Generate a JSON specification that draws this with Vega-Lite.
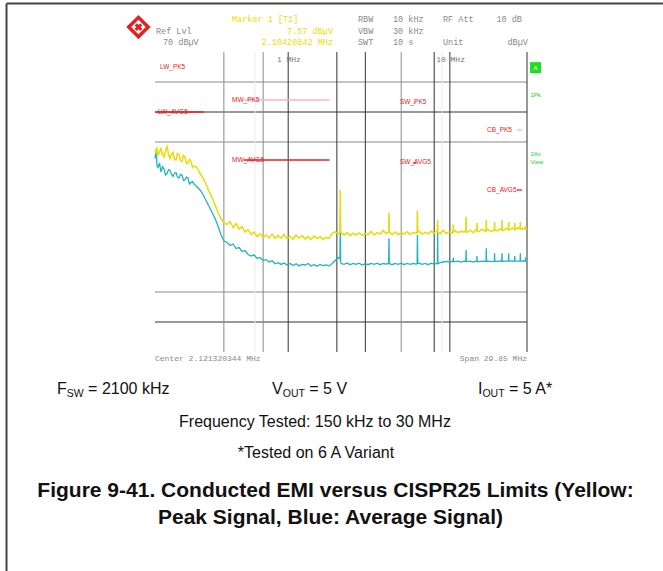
{
  "$schema": "https://vega.github.io/schema/vega-lite/v6.json",
  "width": 372,
  "height": 300,
  "autosize": {"type": "none"},
  "padding": {"left": 155, "top": 52, "right": 136, "bottom": 219},
  "background": "white",
  "config": {"view": {"stroke": null}, "font": "Liberation Sans"},
  "datasets": {
    "hgrid": [
      {"db": 60, "w": "minor"}, {"db": 50, "w": "major"}, {"db": 40, "w": "minor"},
      {"db": -10, "w": "minor"}, {"db": -20, "w": "major"}
    ],
    "vgrid": [
      {"f": 0.4, "w": "minor"}, {"f": 0.623, "w": "faint"}, {"f": 0.7, "w": "minor"},
      {"f": 1, "w": "major"}, {"f": 2, "w": "major"}, {"f": 3, "w": "major"},
      {"f": 5, "w": "minor"}, {"f": 8, "w": "major"}, {"f": 8.94, "w": "faint"},
      {"f": 10, "w": "major"}, {"f": 30, "w": "major"}
    ],
    "limits": [
      {"band": "LW", "kind": "AVG", "f1": 0.15, "f2": 0.3, "db": 50},
      {"band": "MW", "kind": "PK", "f1": 0.53, "f2": 1.8, "db": 54},
      {"band": "MW", "kind": "AVG", "f1": 0.53, "f2": 1.8, "db": 34},
      {"band": "SW", "kind": "PK", "f1": 5.9, "f2": 6.2, "db": 53},
      {"band": "SW", "kind": "AVG", "f1": 5.9, "f2": 6.2, "db": 33},
      {"band": "CB", "kind": "PK", "f1": 26, "f2": 28, "db": 44},
      {"band": "CB", "kind": "AVG", "f1": 26, "f2": 28, "db": 24}
    ],
    "limitLabels": [
      {"t": "LW_PK5", "f": 0.1611, "db": 65},
      {"t": "LW_AVG5", "f": 0.1566, "db": 50},
      {"t": "MW_PK5", "f": 0.449, "db": 54},
      {"t": "MW_AVG5", "f": 0.449, "db": 34},
      {"t": "SW_PK5", "f": 4.917, "db": 53.5},
      {"t": "SW_AVG5", "f": 4.917, "db": 33.5},
      {"t": "CB_PK5", "f": 16.97, "db": 44},
      {"t": "CB_AVG5", "f": 16.97, "db": 24}
    ],
    "trace": [
      {"f": 0.15, "pk": 37.5, "av": 34.5}, {"f": 0.1525, "pk": 36.5, "av": 37.0},
      {"f": 0.1545, "pk": 38.2, "av": 32.0},
      {"f": 0.1566, "pk": 35.5, "av": 31.5}, {"f": 0.16, "pk": 36.8, "av": 33.0},
      {"f": 0.1634, "pk": 37.8, "av": 30.0}, {"f": 0.167, "pk": 35.8, "av": 31.8},
      {"f": 0.1705, "pk": 35.0, "av": 31.0}, {"f": 0.174, "pk": 37.0, "av": 29.0},
      {"f": 0.178, "pk": 38.5, "av": 29.5}, {"f": 0.182, "pk": 35.8, "av": 30.8},
      {"f": 0.1858, "pk": 34.5, "av": 30.5}, {"f": 0.19, "pk": 36.0, "av": 29.2},
      {"f": 0.1939, "pk": 36.5, "av": 28.5}, {"f": 0.198, "pk": 34.2, "av": 29.6},
      {"f": 0.2023, "pk": 34.0, "av": 29.8}, {"f": 0.2065, "pk": 36.2, "av": 28.3},
      {"f": 0.2112, "pk": 35.8, "av": 28.0}, {"f": 0.2158, "pk": 33.8, "av": 29.2},
      {"f": 0.2204, "pk": 33.5, "av": 29.0}, {"f": 0.225, "pk": 35.5, "av": 27.2},
      {"f": 0.23, "pk": 35.0, "av": 27.5}, {"f": 0.235, "pk": 32.8, "av": 28.3},
      {"f": 0.2401, "pk": 33.0, "av": 28.0}, {"f": 0.245, "pk": 34.2, "av": 26.0},
      {"f": 0.2506, "pk": 33.5, "av": 26.5}, {"f": 0.256, "pk": 31.5, "av": 26.8},
      {"f": 0.2615, "pk": 32.0, "av": 26.0}, {"f": 0.2729, "pk": 31.5, "av": 25.0},
      {"f": 0.2849, "pk": 29.5, "av": 24.0}, {"f": 0.2973, "pk": 28.0, "av": 22.5},
      {"f": 0.3103, "pk": 26.0, "av": 20.5}, {"f": 0.3239, "pk": 23.5, "av": 18.5},
      {"f": 0.338, "pk": 21.5, "av": 16.5}, {"f": 0.3528, "pk": 19.0, "av": 14.5},
      {"f": 0.3682, "pk": 16.5, "av": 12.0}, {"f": 0.3843, "pk": 14.5, "av": 9.0},
      {"f": 0.4011, "pk": 13.0, "av": 7.0}, {"f": 0.4186, "pk": 12.5, "av": 6.5},
      {"f": 0.4369, "pk": 13.5, "av": 5.5}, {"f": 0.456, "pk": 11.5, "av": 6.0},
      {"f": 0.4759, "pk": 12.8, "av": 4.5}, {"f": 0.4967, "pk": 11.0, "av": 4.8},
      {"f": 0.5184, "pk": 11.8, "av": 3.5}, {"f": 0.541, "pk": 10.0, "av": 3.8},
      {"f": 0.5646, "pk": 10.8, "av": 2.5}, {"f": 0.5893, "pk": 9.2, "av": 2.0},
      {"f": 0.615, "pk": 10.0, "av": 2.4}, {"f": 0.6419, "pk": 8.5, "av": 1.2},
      {"f": 0.6699, "pk": 9.4, "av": 1.5}, {"f": 0.6992, "pk": 8.2, "av": 0.5},
      {"f": 0.7297, "pk": 9.0, "av": 0.8}, {"f": 0.7616, "pk": 8.0, "av": 0.0},
      {"f": 0.7949, "pk": 9.3, "av": 0.4}, {"f": 0.8296, "pk": 7.9, "av": -0.6},
      {"f": 0.8658, "pk": 8.8, "av": -0.2}, {"f": 0.9036, "pk": 8.0, "av": -0.8},
      {"f": 0.9431, "pk": 9.2, "av": -0.3}, {"f": 0.9843, "pk": 7.8, "av": -1.0},
      {"f": 1.027, "pk": 8.6, "av": -0.5}, {"f": 1.072, "pk": 7.6, "av": -1.2},
      {"f": 1.119, "pk": 9.0, "av": -0.6}, {"f": 1.168, "pk": 8.0, "av": -1.3},
      {"f": 1.219, "pk": 8.8, "av": -0.8}, {"f": 1.272, "pk": 7.7, "av": -1.0},
      {"f": 1.328, "pk": 8.5, "av": -0.5}, {"f": 1.386, "pk": 7.5, "av": -1.3},
      {"f": 1.446, "pk": 8.7, "av": -0.9}, {"f": 1.509, "pk": 7.8, "av": -1.4},
      {"f": 1.575, "pk": 8.4, "av": -0.8}, {"f": 1.644, "pk": 7.6, "av": -1.2},
      {"f": 1.716, "pk": 8.2, "av": -1.0}, {"f": 1.791, "pk": 7.9, "av": -1.3},
      {"f": 1.869, "pk": 9.5, "av": -0.5}, {"f": 1.951, "pk": 10.0, "av": 0.5},
      {"f": 2.036, "pk": 9.5, "av": 1.5}, {"f": 2.09, "pk": 10.0, "av": 1.0},
      {"f": 2.1, "pk": 24.0, "av": 13.4}, {"f": 2.11, "pk": 10.0, "av": 0.5},
      {"f": 2.125, "pk": 9.8, "av": -0.5}, {"f": 2.218, "pk": 9.0, "av": -0.8},
      {"f": 2.315, "pk": 9.8, "av": -0.3}, {"f": 2.416, "pk": 8.8, "av": -0.9},
      {"f": 2.521, "pk": 9.6, "av": -0.5}, {"f": 2.631, "pk": 9.0, "av": -0.8},
      {"f": 2.746, "pk": 9.7, "av": -0.4}, {"f": 2.866, "pk": 8.9, "av": -1.0},
      {"f": 2.991, "pk": 9.5, "av": -0.6}, {"f": 3.122, "pk": 9.2, "av": -0.9},
      {"f": 3.258, "pk": 10.2, "av": -0.5}, {"f": 3.401, "pk": 9.0, "av": -0.8},
      {"f": 3.549, "pk": 9.8, "av": -0.4}, {"f": 3.704, "pk": 9.3, "av": -0.9},
      {"f": 3.866, "pk": 10.5, "av": -0.5}, {"f": 4.035, "pk": 9.5, "av": -0.7},
      {"f": 4.18, "pk": 10.0, "av": -0.5}, {"f": 4.2, "pk": 16.4, "av": 7.9},
      {"f": 4.22, "pk": 10.0, "av": -0.5}, {"f": 4.395, "pk": 9.2, "av": -0.9},
      {"f": 4.587, "pk": 10.0, "av": -0.5}, {"f": 4.787, "pk": 9.1, "av": -0.8},
      {"f": 4.996, "pk": 9.9, "av": -0.4}, {"f": 5.214, "pk": 9.3, "av": -0.9},
      {"f": 5.442, "pk": 10.1, "av": -0.5}, {"f": 5.679, "pk": 9.2, "av": -0.8},
      {"f": 5.927, "pk": 9.8, "av": -0.5}, {"f": 6.186, "pk": 9.5, "av": -0.7},
      {"f": 6.27, "pk": 10.0, "av": -0.5}, {"f": 6.3, "pk": 17.1, "av": 9.0},
      {"f": 6.33, "pk": 10.0, "av": -0.5}, {"f": 6.456, "pk": 10.2, "av": -0.4},
      {"f": 6.738, "pk": 9.3, "av": -0.8}, {"f": 7.033, "pk": 9.9, "av": -0.5},
      {"f": 7.34, "pk": 9.4, "av": -0.9}, {"f": 7.66, "pk": 10.3, "av": -0.4},
      {"f": 7.995, "pk": 9.6, "av": -0.7}, {"f": 8.37, "pk": 10.5, "av": -0.5},
      {"f": 8.4, "pk": 14.0, "av": 10.1}, {"f": 8.43, "pk": 10.0, "av": -0.5},
      {"f": 8.708, "pk": 9.4, "av": -0.2}, {"f": 9.088, "pk": 10.6, "av": 0.0},
      {"f": 9.485, "pk": 9.5, "av": 0.2}, {"f": 9.899, "pk": 10.0, "av": 0.0},
      {"f": 10.332, "pk": 9.6, "av": 0.2}, {"f": 10.46, "pk": 10.2, "av": 0.1},
      {"f": 10.5, "pk": 12.5, "av": 1.5}, {"f": 10.54, "pk": 10.0, "av": 0.1},
      {"f": 10.783, "pk": 10.4, "av": 0.1}, {"f": 11.254, "pk": 9.8, "av": 0.3},
      {"f": 11.745, "pk": 10.2, "av": 0.0}, {"f": 12.258, "pk": 10.0, "av": 0.3},
      {"f": 12.55, "pk": 10.3, "av": 0.2}, {"f": 12.6, "pk": 15.1, "av": 4.0},
      {"f": 12.65, "pk": 10.0, "av": 0.2}, {"f": 12.793, "pk": 9.9, "av": 0.1},
      {"f": 13.352, "pk": 10.6, "av": 0.3}, {"f": 13.935, "pk": 9.8, "av": 0.0},
      {"f": 14.543, "pk": 10.8, "av": 0.3}, {"f": 14.65, "pk": 10.4, "av": 0.2},
      {"f": 14.7, "pk": 13.0, "av": 2.0}, {"f": 14.75, "pk": 10.3, "av": 0.2},
      {"f": 15.178, "pk": 10.2, "av": 0.1}, {"f": 15.841, "pk": 10.9, "av": 0.3},
      {"f": 16.533, "pk": 10.3, "av": 0.2}, {"f": 16.74, "pk": 10.5, "av": 0.3},
      {"f": 16.8, "pk": 14.0, "av": 4.6}, {"f": 16.86, "pk": 10.4, "av": 0.2},
      {"f": 17.255, "pk": 10.8, "av": 0.3}, {"f": 18.008, "pk": 10.2, "av": 0.1},
      {"f": 18.83, "pk": 10.6, "av": 0.2}, {"f": 18.9, "pk": 13.4, "av": 2.9},
      {"f": 18.97, "pk": 10.6, "av": 0.2}, {"f": 19.615, "pk": 10.4, "av": 0.2},
      {"f": 20.472, "pk": 11.0, "av": 0.4}, {"f": 20.93, "pk": 10.7, "av": 0.3},
      {"f": 21.0, "pk": 14.0, "av": 2.9}, {"f": 21.07, "pk": 10.6, "av": 0.3},
      {"f": 21.366, "pk": 10.5, "av": 0.2}, {"f": 22.299, "pk": 11.2, "av": 0.3},
      {"f": 23.02, "pk": 10.8, "av": 0.3}, {"f": 23.1, "pk": 13.4, "av": 2.9},
      {"f": 23.18, "pk": 10.7, "av": 0.3}, {"f": 24.289, "pk": 11.3, "av": 0.4},
      {"f": 25.12, "pk": 10.9, "av": 0.3}, {"f": 25.2, "pk": 13.0, "av": 2.0},
      {"f": 25.28, "pk": 10.8, "av": 0.3}, {"f": 26.457, "pk": 11.4, "av": 0.3},
      {"f": 27.21, "pk": 11.0, "av": 0.3}, {"f": 27.3, "pk": 13.4, "av": 2.9},
      {"f": 27.39, "pk": 10.9, "av": 0.3}, {"f": 28.817, "pk": 11.2, "av": 0.4},
      {"f": 29.3, "pk": 11.0, "av": 0.3}, {"f": 29.4, "pk": 12.0, "av": 1.5},
      {"f": 29.5, "pk": 11.0, "av": 0.3}, {"f": 30.0, "pk": 11.0, "av": 0.3}
    ],
    "headGray": [
      {"t": "RBW", "f": 2.70, "db": 81}, {"t": "10 kHz", "f": 4.449, "db": 81},
      {"t": "RF Att", "f": 9.07, "db": 81},
      {"t": "Ref Lvl", "f": 0.152, "db": 77}, {"t": "VBW", "f": 2.70, "db": 77},
      {"t": "30 kHz", "f": 4.449, "db": 77},
      {"t": "70 dBµV", "f": 0.1681, "db": 73.33}, {"t": "SWT", "f": 2.70, "db": 73.33},
      {"t": "10 s", "f": 4.449, "db": 73.33}, {"t": "Unit", "f": 9.07, "db": 73.33}
    ],
    "headGrayRight": [
      {"t": "10 dB", "f": 27.9, "db": 81}, {"t": "dBµV", "f": 30.4, "db": 73.33}
    ],
    "headYellow": [
      {"t": "Marker 1 [T1]", "f": 0.449, "db": 81}
    ],
    "headYellowRight": [
      {"t": "7.57 dBµV", "f": 1.893, "db": 77},
      {"t": "2.10420842 MHz", "f": 1.893, "db": 73.33}
    ],
    "freqLabels": [
      {"t": "1 MHz", "f": 1.01, "db": 67.3}, {"t": "10 MHz", "f": 10.1, "db": 67.3}
    ],
    "bottomLeft": [{"t": "Center 2.121320344 MHz", "f": 0.15, "db": -32.4}],
    "bottomRight": [{"t": "Span 29.85 MHz", "f": 30, "db": -32.4}],
    "greenLabels": [
      {"t": "1Pk", "f": 31.5, "db": 55.7},
      {"t": "2Av", "f": 31.5, "db": 36},
      {"t": "View", "f": 31.5, "db": 33.3}
    ],
    "greenBox": [{"t": "A", "f": 33.87, "db": 64.8}],
    "logo": [{"f": 0.1185, "db": 78.3}],
    "footMain": [
      {"t": "F", "f": 0.03714, "db": -42.33},
      {"t": "= 2100 kHz", "f": 0.05785, "db": -42.33},
      {"t": "V", "f": 0.7938, "db": -42.33},
      {"t": "= 5 V", "f": 1.3504, "db": -42.33},
      {"t": "I", "f": 14.928, "db": -42.33},
      {"t": "= 5 A*", "f": 23.214, "db": -42.33}
    ],
    "footSub": [
      {"t": "SW", "f": 0.0427, "db": -44},
      {"t": "OUT", "f": 0.9249, "db": -44},
      {"t": "OUT", "f": 15.893, "db": -44}
    ],
    "footCenter": [
      {"t": "Frequency Tested: 150 kHz to 30 MHz", "f": 1.4648, "db": -53.33},
      {"t": "*Tested on 6 A Variant", "f": 1.4858, "db": -63.67}
    ],
    "caption": [
      {"t": "Figure 9-41. Conducted EMI versus CISPR25 Limits (Yellow:", "f": 1.9617, "db": -76.33},
      {"t": "Peak Signal, Blue: Average Signal)", "f": 1.8267, "db": -85.33}
    ],
    "frameTop": [{"f1": 0.0181, "f2": 208, "db": 86.2}],
    "frameLeft": [{"f": 0.0181, "db1": 86.2, "db2": -103}]
  },
  "resolve": {"scale": {"color": "independent"}},
  "layer": [
    {
      "data": {"name": "hgrid"},
      "mark": {"type": "rule", "strokeWidth": 1},
      "encoding": {
        "y": {
          "field": "db", "type": "quantitative",
          "scale": {"domain": [-30, 70], "nice": false, "zero": false},
          "axis": {
            "title": null, "values": [70, 60, 50, 40, 30, 20, 10, 0, -10, -20, -30],
            "labelFontSize": 6, "labelColor": "#8c8c8c", "labelFont": "DejaVu Sans",
            "ticks": false, "grid": false, "domainColor": "#333333", "domainWidth": 1.5,
            "labelPadding": 4
          }
        },
        "color": {
          "field": "w", "type": "nominal", "legend": null,
          "scale": {"domain": ["major", "minor", "faint"], "range": ["#333333", "#8a8a8a", "#ececec"]}
        }
      }
    },
    {
      "data": {"name": "vgrid"},
      "mark": {"type": "rule", "strokeWidth": 1},
      "encoding": {
        "x": {
          "field": "f", "type": "quantitative",
          "scale": {"type": "log", "domain": [0.15, 30], "nice": false},
          "axis": {
            "title": null, "labels": false, "ticks": false, "grid": false,
            "domainColor": "#333333", "domainWidth": 1.5
          }
        },
        "color": {
          "field": "w", "type": "nominal", "legend": null,
          "scale": {"domain": ["major", "minor", "faint"], "range": ["#333333", "#8a8a8a", "#ececec"]}
        }
      }
    },
    {
      "data": {"name": "limits"},
      "mark": {"type": "rule", "strokeWidth": 1.3},
      "encoding": {
        "x": {"field": "f1", "type": "quantitative", "axis": null},
        "x2": {"field": "f2"},
        "y": {"field": "db", "type": "quantitative", "axis": null},
        "color": {
          "field": "kind", "type": "nominal", "legend": null,
          "scale": {"domain": ["PK", "AVG"], "range": ["#f2b8b8", "#e82020"]}
        }
      }
    },
    {
      "data": {"name": "trace"},
      "mark": {"type": "line", "color": "#1fb5bd", "strokeWidth": 1.3},
      "encoding": {
        "x": {"field": "f", "type": "quantitative", "axis": null},
        "y": {"field": "av", "type": "quantitative", "axis": null}
      }
    },
    {
      "data": {"name": "trace"},
      "mark": {"type": "line", "color": "#e8dc10", "strokeWidth": 1.6},
      "encoding": {
        "x": {"field": "f", "type": "quantitative", "axis": null},
        "y": {"field": "pk", "type": "quantitative", "axis": null}
      }
    },
    {
      "data": {"name": "limitLabels"},
      "mark": {"type": "text", "align": "left", "baseline": "middle", "fontSize": 6.5, "color": "#e82020"},
      "encoding": {
        "x": {"field": "f", "type": "quantitative", "axis": null},
        "y": {"field": "db", "type": "quantitative", "axis": null},
        "text": {"field": "t"}
      }
    },
    {
      "data": {"name": "headGray"},
      "mark": {"type": "text", "align": "left", "baseline": "middle", "fontSize": 8.5, "font": "Liberation Mono", "color": "#8a8a8a"},
      "encoding": {
        "x": {"field": "f", "type": "quantitative", "axis": null},
        "y": {"field": "db", "type": "quantitative", "axis": null},
        "text": {"field": "t"}
      }
    },
    {
      "data": {"name": "headGrayRight"},
      "mark": {"type": "text", "align": "right", "baseline": "middle", "fontSize": 8.5, "font": "Liberation Mono", "color": "#8a8a8a"},
      "encoding": {
        "x": {"field": "f", "type": "quantitative", "axis": null},
        "y": {"field": "db", "type": "quantitative", "axis": null},
        "text": {"field": "t"}
      }
    },
    {
      "data": {"name": "headYellow"},
      "mark": {"type": "text", "align": "left", "baseline": "middle", "fontSize": 8.5, "font": "Liberation Mono", "color": "#e8e000"},
      "encoding": {
        "x": {"field": "f", "type": "quantitative", "axis": null},
        "y": {"field": "db", "type": "quantitative", "axis": null},
        "text": {"field": "t"}
      }
    },
    {
      "data": {"name": "headYellowRight"},
      "mark": {"type": "text", "align": "right", "baseline": "middle", "fontSize": 8.5, "font": "Liberation Mono", "color": "#e8e000"},
      "encoding": {
        "x": {"field": "f", "type": "quantitative", "axis": null},
        "y": {"field": "db", "type": "quantitative", "axis": null},
        "text": {"field": "t"}
      }
    },
    {
      "data": {"name": "freqLabels"},
      "mark": {"type": "text", "align": "center", "baseline": "middle", "fontSize": 8, "font": "Liberation Mono", "color": "#777777"},
      "encoding": {
        "x": {"field": "f", "type": "quantitative", "axis": null},
        "y": {"field": "db", "type": "quantitative", "axis": null},
        "text": {"field": "t"}
      }
    },
    {
      "data": {"name": "bottomLeft"},
      "mark": {"type": "text", "align": "left", "baseline": "middle", "fontSize": 8, "font": "Liberation Mono", "color": "#8a8a8a"},
      "encoding": {
        "x": {"field": "f", "type": "quantitative", "axis": null},
        "y": {"field": "db", "type": "quantitative", "axis": null},
        "text": {"field": "t"}
      }
    },
    {
      "data": {"name": "bottomRight"},
      "mark": {"type": "text", "align": "right", "baseline": "middle", "fontSize": 8, "font": "Liberation Mono", "color": "#8a8a8a"},
      "encoding": {
        "x": {"field": "f", "type": "quantitative", "axis": null},
        "y": {"field": "db", "type": "quantitative", "axis": null},
        "text": {"field": "t"}
      }
    },
    {
      "data": {"name": "greenBox"},
      "mark": {"type": "point", "shape": "square", "filled": true, "size": 120, "color": "#22dd22", "opacity": 1},
      "encoding": {
        "x": {"field": "f", "type": "quantitative", "axis": null},
        "y": {"field": "db", "type": "quantitative", "axis": null}
      }
    },
    {
      "data": {"name": "greenBox"},
      "mark": {"type": "text", "align": "center", "baseline": "middle", "fontSize": 6, "color": "white"},
      "encoding": {
        "x": {"field": "f", "type": "quantitative", "axis": null},
        "y": {"field": "db", "type": "quantitative", "axis": null},
        "text": {"field": "t"}
      }
    },
    {
      "data": {"name": "greenLabels"},
      "mark": {"type": "text", "align": "left", "baseline": "middle", "fontSize": 6, "color": "#22cc22"},
      "encoding": {
        "x": {"field": "f", "type": "quantitative", "axis": null},
        "y": {"field": "db", "type": "quantitative", "axis": null},
        "text": {"field": "t"}
      }
    },
    {
      "data": {"name": "logo"},
      "mark": {"type": "point", "shape": "diamond", "filled": false, "size": 380, "stroke": "#e62020", "strokeWidth": 3.5, "opacity": 1},
      "encoding": {
        "x": {"field": "f", "type": "quantitative", "axis": null},
        "y": {"field": "db", "type": "quantitative", "axis": null}
      }
    },
    {
      "data": {"name": "logo"},
      "mark": {"type": "point", "shape": "cross", "filled": true, "size": 60, "color": "#e62020", "opacity": 1, "angle": 45},
      "encoding": {
        "x": {"field": "f", "type": "quantitative", "axis": null},
        "y": {"field": "db", "type": "quantitative", "axis": null}
      }
    },
    {
      "data": {"name": "footMain"},
      "mark": {"type": "text", "align": "left", "baseline": "middle", "fontSize": 16, "color": "#111111"},
      "encoding": {
        "x": {"field": "f", "type": "quantitative", "axis": null},
        "y": {"field": "db", "type": "quantitative", "axis": null},
        "text": {"field": "t"}
      }
    },
    {
      "data": {"name": "footSub"},
      "mark": {"type": "text", "align": "left", "baseline": "middle", "fontSize": 10.5, "color": "#111111"},
      "encoding": {
        "x": {"field": "f", "type": "quantitative", "axis": null},
        "y": {"field": "db", "type": "quantitative", "axis": null},
        "text": {"field": "t"}
      }
    },
    {
      "data": {"name": "footCenter"},
      "mark": {"type": "text", "align": "center", "baseline": "middle", "fontSize": 16, "color": "#111111"},
      "encoding": {
        "x": {"field": "f", "type": "quantitative", "axis": null},
        "y": {"field": "db", "type": "quantitative", "axis": null},
        "text": {"field": "t"}
      }
    },
    {
      "data": {"name": "caption"},
      "mark": {"type": "text", "align": "center", "baseline": "middle", "fontSize": 21, "fontWeight": "bold", "color": "#111111"},
      "encoding": {
        "x": {"field": "f", "type": "quantitative", "axis": null},
        "y": {"field": "db", "type": "quantitative", "axis": null},
        "text": {"field": "t"}
      }
    },
    {
      "data": {"name": "frameTop"},
      "mark": {"type": "rule", "strokeWidth": 2, "color": "#444444"},
      "encoding": {
        "x": {"field": "f1", "type": "quantitative", "axis": null},
        "x2": {"field": "f2"},
        "y": {"field": "db", "type": "quantitative", "axis": null}
      }
    },
    {
      "data": {"name": "frameLeft"},
      "mark": {"type": "rule", "strokeWidth": 2, "color": "#444444"},
      "encoding": {
        "x": {"field": "f", "type": "quantitative", "axis": null},
        "y": {"field": "db1", "type": "quantitative", "axis": null},
        "y2": {"field": "db2"}
      }
    }
  ]
}
